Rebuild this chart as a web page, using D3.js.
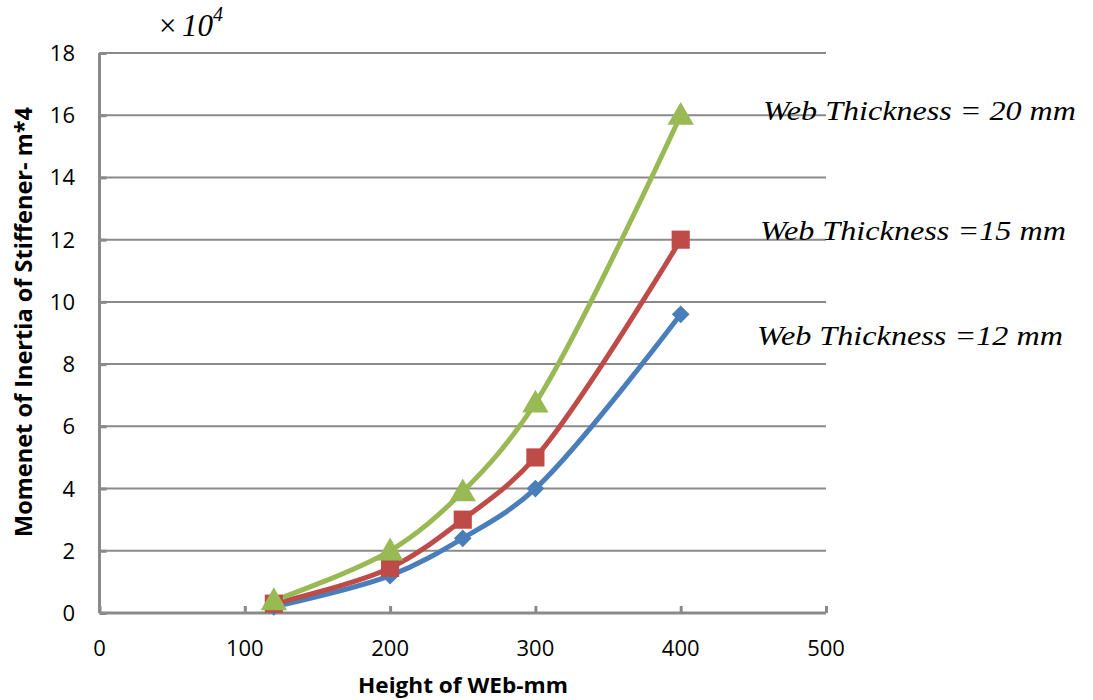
<!DOCTYPE html>
<html>
<head>
<meta charset="utf-8">
<script src="https://cdn.jsdelivr.net/npm/d3@7"></script>
<style>
  html, body { margin: 0; padding: 0; background: #fff; }
  svg { display: block; }
</style>
</head>
<body>
<svg id="chart" width="1093" height="700"></svg>
<script>
// Web height (mm) against stiffener moment of inertia (x 10^-4 m^4)
const heights = [120, 200, 250, 300, 400];
const inertia12 = [0.2, 1.2, 2.4, 4.0, 9.6];
const inertia15 = [0.3, 1.45, 3.0, 5.0, 12.0];
const inertia20 = [0.4, 2.0, 3.9, 6.75, 16.0];
const xTicks = [0, 100, 200, 300, 400, 500];
const yTicks = [0, 2, 4, 6, 8, 10, 12, 14, 16, 18];
const seriesLabels = ["Web Thickness =12 mm", "Web Thickness =15 mm", "Web Thickness = 20 mm"];

const series = [
  { values: inertia12, color: "#4a7ebb", marker: "diamond", label: seriesLabels[0] },
  { values: inertia15, color: "#be4b48", marker: "square", label: seriesLabels[1] },
  { values: inertia20, color: "#98b954", marker: "triangle", label: seriesLabels[2] }
];

const svg = d3.select("#chart");
const x = d3.scaleLinear().domain([0, 500]).range([99.5, 826]);
const y = d3.scaleLinear().domain([0, 18]).range([613, 53]);
const axisColor = "#8a8a8a";
const sansFont = "'Open Sans', 'Noto Sans', sans-serif";
const serifFont = "'Liberation Serif', 'DejaVu Serif', serif";

// horizontal gridlines
svg.append("g")
  .selectAll("line")
  .data(yTicks.filter(d => d > 0))
  .join("line")
  .attr("x1", x(0)).attr("x2", x(500))
  .attr("y1", d => y(d)).attr("y2", d => y(d))
  .attr("stroke", axisColor).attr("stroke-width", 2);

// y axis: ticks point into the plot
const yAxis = svg.append("g")
  .attr("transform", `translate(${x(0)},0)`)
  .call(d3.axisRight(y).tickValues(yTicks).tickSize(7).tickFormat(""));
yAxis.selectAll("line").attr("stroke", axisColor).attr("stroke-width", 3);
yAxis.select(".domain").attr("stroke", axisColor).attr("stroke-width", 3).attr("d", `M0,${y(0)}V${y(18)}`);

// y tick labels
svg.append("g")
  .selectAll("text")
  .data(yTicks)
  .join("text")
  .attr("x", 75).attr("y", d => y(d) + 8)
  .attr("text-anchor", "end")
  .attr("font-family", sansFont).attr("font-size", 22).attr("fill", "#000")
  .text(d => d);

// x axis: ticks point up into the plot
const xAxis = svg.append("g")
  .attr("transform", `translate(0,${y(0)})`)
  .call(d3.axisTop(x).tickValues(xTicks).tickSize(7).tickFormat(""));
xAxis.selectAll("line").attr("stroke", axisColor).attr("stroke-width", 3);
xAxis.select(".domain").attr("stroke", axisColor).attr("stroke-width", 3).attr("d", `M${x(0)},0H${x(500)}`);

// x tick labels
svg.append("g")
  .selectAll("text")
  .data(xTicks)
  .join("text")
  .attr("x", d => x(d)).attr("y", 656)
  .attr("text-anchor", "middle")
  .attr("font-family", sansFont).attr("font-size", 22).attr("fill", "#000")
  .text(d => d);

// axis titles
svg.append("text")
  .attr("x", 358).attr("y", 693)
  .attr("textLength", 210).attr("lengthAdjust", "spacingAndGlyphs")
  .attr("font-family", sansFont).attr("font-size", 22).attr("font-weight", "bold")
  .text("Height of WEb-mm");

svg.append("text")
  .attr("transform", "translate(32,537) rotate(-90)")
  .attr("textLength", 430).attr("lengthAdjust", "spacingAndGlyphs")
  .attr("font-family", sansFont).attr("font-size", 23).attr("font-weight", "bold")
  .text("Momenet of Inertia of Stiffener- m*4");

// scale multiplier note
const mult = svg.append("text")
  .attr("x", 157).attr("y", 36)
  .attr("font-family", serifFont).attr("font-style", "italic").attr("font-size", 31);
mult.append("tspan").text("\u00d7");
mult.append("tspan").attr("dx", 4).text("10");
mult.append("tspan").attr("dy", -15).attr("font-size", 20).text("4");

// smoothed series lines
const line = d3.line()
  .x((d, i) => x(heights[i]))
  .y(d => y(d))
  .curve(d3.curveCatmullRom.alpha(0.5));

const lineG = svg.append("g");
series.forEach(s => {
  lineG.append("path")
    .attr("d", line(s.values))
    .attr("fill", "none")
    .attr("stroke", s.color)
    .attr("stroke-width", 5)
    .attr("stroke-linejoin", "round");
});

// markers
const symbolOf = {
  diamond: d3.symbol().type(d3.symbolDiamond2).size(200),
  square: d3.symbol().type(d3.symbolSquare).size(330),
  triangle: d3.symbol().type(d3.symbolTriangle).size(300)
};
series.forEach(s => {
  svg.append("g")
    .selectAll("path")
    .data(s.values)
    .join("path")
    .attr("transform", (d, i) => `translate(${x(heights[i])},${y(d) + (s.marker === "triangle" ? 2 : 0)})`)
    .attr("d", symbolOf[s.marker]())
    .attr("fill", s.color);
});

// series labels placed beside the line ends
const labelPos = [
  { x: 757, y: 345, w: 306 },
  { x: 760, y: 240, w: 306 },
  { x: 763, y: 120, w: 313 }
];
series.forEach((s, i) => {
  svg.append("text")
    .attr("x", labelPos[i].x).attr("y", labelPos[i].y)
    .attr("textLength", labelPos[i].w).attr("lengthAdjust", "spacingAndGlyphs")
    .attr("font-family", serifFont).attr("font-style", "italic").attr("font-size", 28)
    .attr("fill", "#000")
    .text(s.label);
});
</script>
</body>
</html>
